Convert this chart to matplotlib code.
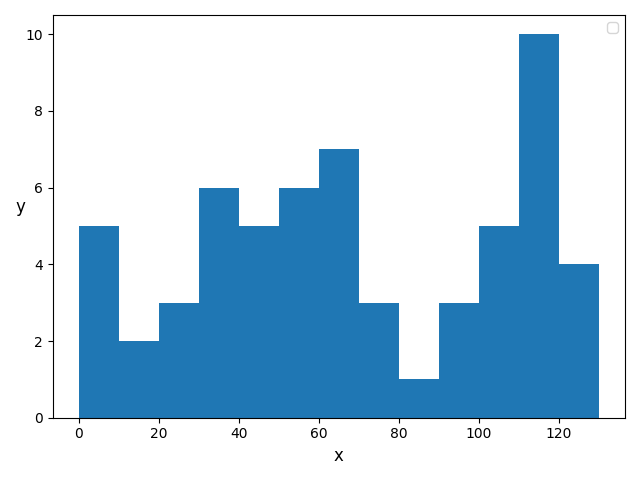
import numpy as np
import matplotlib
matplotlib.use("Agg")
import matplotlib.pyplot as plt

# bin edges and counts
bin_edges = [0, 10, 20, 30, 40, 50, 60, 70, 80, 90, 100, 110, 120, 130]
counts = [5, 2, 3, 6, 5, 6, 7, 3, 1, 3, 5, 10, 4]

fig, ax = plt.subplots(figsize=(6.4, 4.8), dpi=100)
ax.hist(bin_edges[:-1], bins=bin_edges, weights=counts, color='#1f77b4')
ax.set_xlabel('x', fontsize=12)
ax.set_ylabel('y', fontsize=12, rotation=0)
ax.legend(loc='upper right')
plt.tight_layout()
plt.savefig('out.png')
